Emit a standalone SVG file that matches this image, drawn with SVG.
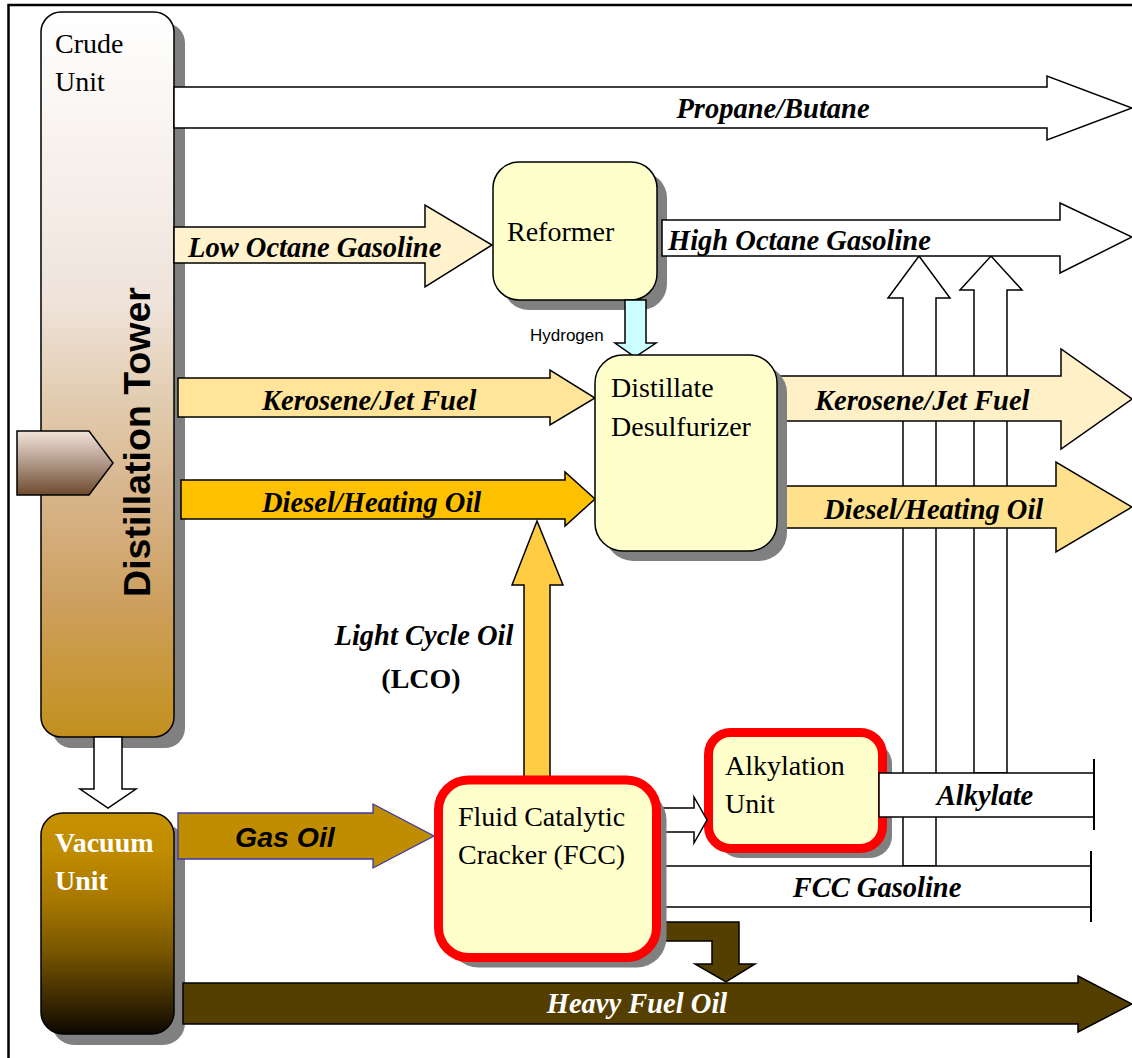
<svg xmlns="http://www.w3.org/2000/svg" width="1132" height="1058" viewBox="0 0 1132 1058">
<defs>
<linearGradient id="gCrude" x1="0" y1="0" x2="0" y2="1">
<stop offset="0" stop-color="#ffffff"/>
<stop offset="0.40" stop-color="#efe3da"/>
<stop offset="0.535" stop-color="#e2ccb0"/>
<stop offset="0.67" stop-color="#d7b48a"/>
<stop offset="0.81" stop-color="#cda060"/>
<stop offset="0.95" stop-color="#c6952e"/>
<stop offset="1" stop-color="#c28f1e"/>
</linearGradient>
<linearGradient id="gVac" x1="0" y1="0" x2="0" y2="1">
<stop offset="0" stop-color="#c69200"/>
<stop offset="0.17" stop-color="#c08c00"/>
<stop offset="0.39" stop-color="#a87800"/>
<stop offset="0.62" stop-color="#7a5800"/>
<stop offset="0.85" stop-color="#3a2800"/>
<stop offset="1" stop-color="#0c0700"/>
</linearGradient>
<linearGradient id="gFeed" x1="0" y1="0" x2="0" y2="1">
<stop offset="0" stop-color="#f2e4da"/>
<stop offset="0.5" stop-color="#b09888"/>
<stop offset="1" stop-color="#6e4a2e"/>
</linearGradient>
<style>
.sh{fill:#808080}
.box{fill:#ffffcc;stroke:#000;stroke-width:1.5}
.red{fill:#ffffcc;stroke:#ff0000;stroke-width:9}
.ar{stroke:#000;stroke-width:1.5;stroke-linejoin:miter}
.lbl{font-family:"Liberation Serif","Times New Roman",serif;font-size:28.5px;font-weight:bold;font-style:italic;fill:#000}
.nt{font-family:"Liberation Serif","Times New Roman",serif;font-size:28px;fill:#000}
</style>
</defs>
<rect x="8.5" y="5" width="1200" height="1100" fill="#fff" stroke="#000" stroke-width="2.5"/>

<g id="crude-unit">
<rect class="sh" x="52" y="23" width="133" height="725" rx="20"/>
<rect x="41" y="12" width="133" height="725" rx="20" fill="url(#gCrude)" stroke="#000" stroke-width="1.5"/>
<text class="nt" x="55" y="53">Crude</text>
<text class="nt" x="55" y="91">Unit</text>
<text transform="translate(150,442) rotate(-90)" text-anchor="middle" font-family="Liberation Sans, Arial, sans-serif" font-size="37.5" font-weight="bold" fill="#000">Distillation Tower</text>
<polygon points="17,431 89,431 113,463 89,495 17,495" fill="url(#gFeed)" stroke="#000" stroke-width="1.5"/>
</g>

<g id="vacuum-unit">
<rect class="sh" x="52" y="824" width="133" height="221" rx="22"/>
<rect x="41" y="813" width="133" height="221" rx="22" fill="url(#gVac)" stroke="#000" stroke-width="1.5"/>
<text class="nt" x="55" y="852" font-weight="bold" style="fill:#fff">Vacuum</text>
<text class="nt" x="55" y="890" font-weight="bold" style="fill:#fff">Unit</text>
</g>

<g id="reformer">
<rect class="sh" x="503" y="172" width="164" height="138" rx="26"/>
<rect class="box" x="493" y="162" width="164" height="138" rx="26"/>
<text class="nt" x="507" y="241">Reformer</text>
</g>

<g id="alkylation-unit">
<rect class="sh" x="718" y="742" width="174" height="116" rx="22"/>
<rect class="red" x="708.5" y="732.5" width="174" height="116" rx="22"/>
<text class="nt" x="725" y="775">Alkylation</text>
<text class="nt" x="725" y="813">Unit</text>
</g>

<g id="connectors">
<polygon class="ar" fill="#fff" points="903,866 903,298 888,298 919,256 950,298 936,298 936,866"/>
<polygon class="ar" fill="#fff" points="974,773 974,290 960,290 991,256 1022,290 1007,290 1007,773"/>
<polygon class="ar" fill="#fff" points="174,87 1047,87 1047,76 1132,108 1047,140 1047,128 174,128"/>
<text class="lbl" x="773" y="118" text-anchor="middle">Propane/Butane</text>
<polygon class="ar" fill="#fff2cc" points="174,227 425,227 425,205 492,245 425,287 425,263 174,263"/>
<text class="lbl" x="188" y="257">Low Octane Gasoline</text>
<polygon class="ar" fill="#fff" points="662,220 1060,220 1060,203 1132,237 1060,273 1060,256 662,256"/>
<text class="lbl" x="668" y="250">High Octane Gasoline</text>
<polygon class="ar" fill="#ccffff" points="625,300 646,300 646,343 656,343 635,357 615,343 625,343"/>
<text x="530" y="341" font-family="Liberation Sans, Arial, sans-serif" font-size="17" fill="#000">Hydrogen</text>
<polygon class="ar" fill="#ffe499" points="178,378 550,378 550,370 595,398 550,425 550,417 178,417"/>
<text class="lbl" x="262" y="410">Kerosene/Jet Fuel</text>
<polygon class="ar" fill="#ffc000" points="181,480 565,480 565,472 595,499 565,526 565,519 181,519"/>
<text class="lbl" x="262" y="512">Diesel/Heating Oil</text>
<polygon class="ar" fill="#fff0c8" points="777,376 1061,376 1061,349 1132,399 1061,449 1061,421 777,421"/>
<text class="lbl" x="815" y="410">Kerosene/Jet Fuel</text>
<polygon class="ar" fill="#ffe08c" points="777,486 1056,486 1056,462 1132,507 1056,552 1056,528 777,528"/>
<text class="lbl" x="824" y="519">Diesel/Heating Oil</text>
<polygon class="ar" fill="#ffcc44" points="524,778 524,585 512,585 537,521 563,585 550,585 550,778"/>
<text class="lbl" x="424" y="645" text-anchor="middle">Light Cycle Oil</text>
<text class="nt" x="421" y="688" text-anchor="middle" font-weight="bold">(LCO)</text>
<polygon class="ar" fill="#fff" points="94,737 122,737 122,789 136,789 108,808 80,789 94,789"/>
<polygon fill="#c08c00" stroke="#3a3aa8" stroke-width="1.3" points="178,813 373,813 373,804 434,836 373,868 373,859 178,859"/>
<text x="235" y="847" font-family="Liberation Sans, Arial, sans-serif" font-size="28.5" font-weight="bold" font-style="italic" fill="#000">Gas Oil</text>
<polygon class="ar" fill="#fff" points="662,808 694,808 694,797 707,820 694,843 694,832 662,832"/>
<path class="ar" fill="#fff" d="M879,773 H1094 V817 H879 Z"/>
<path d="M1094,759 V830" stroke="#000" stroke-width="2" fill="none"/>
<text class="lbl" x="985" y="805" text-anchor="middle">Alkylate</text>
<path class="ar" fill="#fff" d="M662,866 H1091 V907 H662 Z"/>
<path d="M1091,851 V922" stroke="#000" stroke-width="2" fill="none"/>
<text class="lbl" x="877" y="897" text-anchor="middle">FCC Gasoline</text>
<polygon class="ar" fill="#553f00" points="662,922 739,922 739,964 755,964 726,982 695,964 712,964 712,941 662,941"/>
<polygon class="ar" fill="#553f00" points="183,983 1078,983 1078,976 1132,1004 1078,1032 1078,1024 183,1024"/>
<text class="lbl" x="637" y="1013" text-anchor="middle" style="fill:#fff">Heavy Fuel Oil</text>
</g>

<g id="distillate-desulfurizer">
<rect class="sh" x="605" y="365" width="182" height="196" rx="28"/>
<rect class="box" x="595" y="355" width="182" height="196" rx="28"/>
<text class="nt" x="611" y="397">Distillate</text>
<text class="nt" x="611" y="436">Desulfurizer</text>
</g>

<g id="fcc">
<rect class="sh" x="448.5" y="790" width="218" height="177.5" rx="30"/>
<rect class="red" x="438.5" y="780" width="218" height="177.5" rx="30"/>
<text class="nt" x="458" y="826">Fluid Catalytic</text>
<text class="nt" x="458" y="864">Cracker (FCC)</text>
</g>
</svg>
